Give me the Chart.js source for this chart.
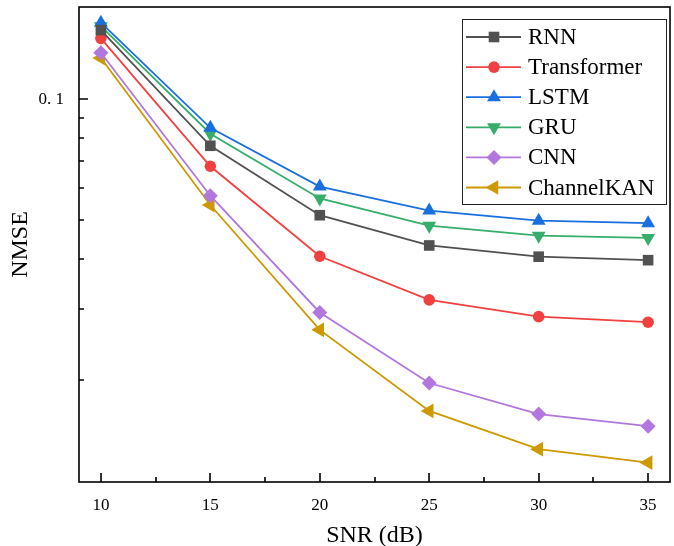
<!DOCTYPE html>
<html lang="en">
<head>
  <meta charset="UTF-8" />
  <title>NMSE vs SNR</title>
  <script src="https://cdn.jsdelivr.net/npm/chart.js"></script>
  <style>
    * { margin: 0; padding: 0; box-sizing: border-box; }
    body { background: #fff; width: 674px; height: 546px; overflow: hidden; }
    canvas { display: block; }
  </style>
</head>
<body>
  <canvas id="nmseChart" width="674" height="546"></canvas>

  <script>
    // SNR values (x) and NMSE per model (y, log scale)
    const snr = [10, 15, 20, 25, 30, 35];
    const rnn = [0.1489, 0.0766, 0.0514, 0.0432, 0.0405, 0.0397];
    const transformer = [0.1420, 0.0681, 0.0406, 0.0316, 0.0287, 0.0278];
    const lstm = [0.1554, 0.0849, 0.0606, 0.0528, 0.0498, 0.0491];
    const gru = [0.1523, 0.0821, 0.0566, 0.0484, 0.0457, 0.0451];
    const cnn = [0.1307, 0.0575, 0.0294, 0.0196, 0.0164, 0.0153];
    const channelKan = [0.1268, 0.0545, 0.0266, 0.0167, 0.0134, 0.0124];

    const xTicks = [10, 15, 20, 25, 30, 35];
    const xMinorTicks = [12.5, 17.5, 22.5, 27.5, 32.5];
    const yTicks = [0.1];
    const yTickLabels = ['0. 1'];
    const yMinorTicks = [0.02, 0.03, 0.04, 0.05, 0.06, 0.07, 0.08, 0.09];

    const serif = "'Liberation Serif', 'Times New Roman', serif";

    function series(label, values, color, style, radius, rotation) {
      return {
        label: label,
        data: snr.map((s, i) => ({ x: s, y: values[i] })),
        borderColor: color,
        backgroundColor: color,
        borderWidth: 1.8,
        tension: 0,
        pointStyle: style,
        pointRadius: radius,
        pointHoverRadius: radius,
        pointRotation: rotation || 0,
        pointBorderWidth: 0,
        pointBackgroundColor: color
      };
    }

    const datasets = [
      series('RNN', rnn, '#515151', 'rect', 7.5),
      series('Transformer', transformer, '#F14040', 'circle', 5.8),
      series('LSTM', lstm, '#1A6FDF', 'triangle', 8),
      series('GRU', gru, '#37AD6B', 'triangle', 8, 180),
      series('CNN', cnn, '#B177DE', 'rectRot', 7.5),
      series('ChannelKAN', channelKan, '#CC9900', 'triangle', 8.5, 270)
    ];

    // drop label overhang padding so the plot box keeps its size
    function noPadding(s) {
      s.paddingLeft = s.paddingRight = s.paddingTop = s.paddingBottom = 0;
    }

    // box around the plot + inward ticks
    const framePlugin = {
      id: 'frame',
      afterDatasetsDraw(chart) {
        const { ctx, chartArea: a, scales: { x, y } } = chart;
        ctx.save();
        ctx.strokeStyle = '#000';
        ctx.lineWidth = 1.6;
        ctx.strokeRect(a.left, a.top, a.right - a.left, a.bottom - a.top);
        ctx.beginPath();
        xTicks.forEach(v => {
          const px = Math.round(x.getPixelForValue(v));
          ctx.moveTo(px, a.bottom); ctx.lineTo(px, a.bottom - 9);
        });
        xMinorTicks.forEach(v => {
          const px = Math.round(x.getPixelForValue(v));
          ctx.moveTo(px, a.bottom); ctx.lineTo(px, a.bottom - 5);
        });
        yTicks.forEach(v => {
          const py = Math.round(y.getPixelForValue(v));
          ctx.moveTo(a.left, py); ctx.lineTo(a.left + 9, py);
        });
        yMinorTicks.forEach(v => {
          const py = Math.round(y.getPixelForValue(v));
          ctx.moveTo(a.left, py); ctx.lineTo(a.left + 5, py);
        });
        ctx.stroke();
        ctx.restore();
      }
    };

    // legend: line + marker, boxed, top right
    const legendPlugin = {
      id: 'boxLegend',
      afterDraw(chart) {
        const ctx = chart.ctx;
        const box = { left: 462.5, top: 19.5, right: 666.5, bottom: 204.5 };
        ctx.save();
        ctx.fillStyle = '#fff';
        ctx.fillRect(box.left, box.top, box.right - box.left, box.bottom - box.top);
        ctx.strokeStyle = '#222';
        ctx.lineWidth = 1;
        ctx.strokeRect(box.left, box.top, box.right - box.left, box.bottom - box.top);
        ctx.font = '23px ' + serif;
        ctx.textBaseline = 'middle';
        ctx.textAlign = 'left';
        chart.data.datasets.forEach((ds, i) => {
          const cy = 37 + i * 30.1;
          ctx.strokeStyle = ds.borderColor;
          ctx.lineWidth = 1.8;
          ctx.beginPath();
          ctx.moveTo(466, cy); ctx.lineTo(521, cy);
          ctx.stroke();
          ctx.fillStyle = ds.backgroundColor;
          Chart.helpers.drawPoint(ctx, {
            pointStyle: ds.pointStyle,
            rotation: ds.pointRotation,
            radius: ds.pointRadius,
            borderWidth: 0
          }, 494, cy);
          ctx.fillStyle = '#000';
          ctx.fillText(ds.label, 528, cy + 1);
        });
        ctx.restore();
      }
    };

    new Chart(document.getElementById('nmseChart'), {
      type: 'line',
      data: { datasets: datasets },
      options: {
        responsive: false,
        animation: false,
        events: [],
        layout: { autoPadding: false, padding: { left: 0, right: 4, top: 7, bottom: 0 } },
        plugins: {
          legend: { display: false },
          tooltip: { enabled: false }
        },
        scales: {
          x: {
            type: 'linear',
            position: 'bottom',
            min: 9,
            max: 36,
            grid: { display: false, drawTicks: false },
            border: { display: false },
            afterBuildTicks: s => { s.ticks = xTicks.map(v => ({ value: v })); },
            afterFit: s => { s.height = 64; noPadding(s); },
            ticks: {
              color: '#000',
              padding: 13,
              maxRotation: 0,
              font: { family: serif, size: 17 }
            },
            title: {
              display: true,
              text: 'SNR (dB)',
              color: '#000',
              font: { family: serif, size: 24, lineHeight: 1 },
              padding: { top: 0, bottom: -2 }
            }
          },
          y: {
            type: 'logarithmic',
            min: 0.0111,
            max: 0.17,
            grid: { display: false, drawTicks: false },
            border: { display: false },
            afterBuildTicks: s => { s.ticks = yTicks.map(v => ({ value: v })); },
            afterFit: s => { s.width = 79; noPadding(s); },
            ticks: {
              color: '#000',
              padding: 15,
              font: { family: serif, size: 17 },
              callback: (v, i) => yTickLabels[i]
            },
            title: {
              display: true,
              text: 'NMSE',
              color: '#000',
              font: { family: serif, size: 24, lineHeight: 1 },
              padding: { top: 9, bottom: 0 }
            }
          }
        }
      },
      plugins: [framePlugin, legendPlugin]
    });
  </script>
</body>
</html>
